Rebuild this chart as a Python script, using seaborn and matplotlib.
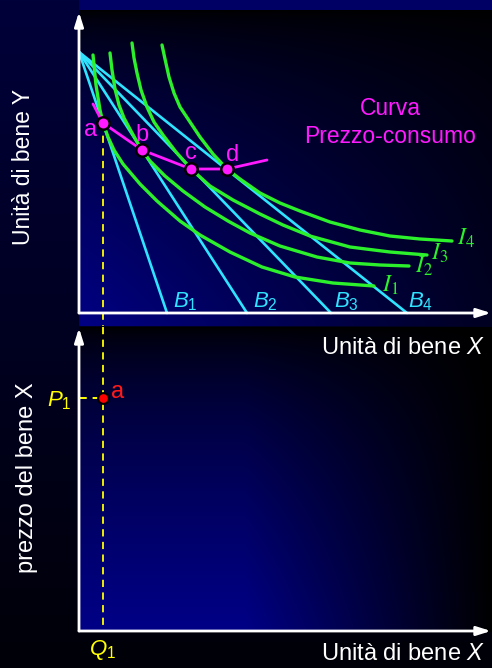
import numpy as np
import matplotlib
matplotlib.use("Agg")
import matplotlib.pyplot as plt
import seaborn as sns

sns.set_theme(style="white")
plt.rcParams['font.family'] = ['Liberation Sans', 'DejaVu Sans']
plt.rcParams['mathtext.fontset'] = 'custom'
plt.rcParams['mathtext.rm'] = 'Liberation Sans'
plt.rcParams['mathtext.it'] = 'Liberation Sans:italic'

# ---- dati (unita' del grafico) ----
# rette di bilancio: intercetta Y comune, intercette X
budget_y0 = 26.1
budget_x_end = [8.8, 16.8, 25.2, 32.8]
budget_names = ["$B_1$", "$B_2$", "$B_3$", "$B_4$"]
budget_lbl_x = [9.4, 17.4, 25.5, 32.9]

# curve di indifferenza
i1_x = [1.4, 1.7, 2.1, 2.4, 2.9, 3.5, 4.4, 6.1, 7.8, 10.1, 12.1, 15.1, 18.3, 21.6, 25.4, 29.5]
i1_y = [25.8, 22.8, 20.3, 19.0, 17.6, 16.3, 14.9, 12.9, 11.2, 9.2, 7.8, 6.1, 4.6, 3.6, 3.0, 2.7]
i2_x = [3.1, 3.3, 3.6, 4.0, 4.5, 5.2, 5.7, 6.3, 7.1, 8.6, 10.4, 12.6, 14.9, 17.1, 20.1, 23.8, 27.1, 30.1, 33.0]
i2_y = [26.0, 24.3, 22.4, 20.8, 19.5, 18.2, 17.3, 16.3, 15.2, 13.7, 12.2, 10.6, 9.2, 8.0, 6.7, 5.6, 5.0, 4.8, 4.7]
i3_x = [5.3, 5.5, 5.8, 6.2, 6.8, 7.5, 8.4, 9.7, 11.2, 13.1, 15.4, 18.1, 20.4, 23.1, 27.1, 31.1, 34.8]
i3_y = [27.0, 25.5, 24.0, 22.3, 20.6, 19.1, 17.8, 16.1, 14.4, 12.7, 11.3, 9.9, 8.8, 7.7, 6.6, 6.1, 5.8]
i4_x = [8.3, 8.6, 9.0, 9.5, 10.1, 11.1, 12.1, 13.4, 14.8, 16.1, 18.1, 20.1, 22.1, 25.1, 28.1, 31.1, 34.1, 37.3]
i4_y = [26.8, 25.4, 23.6, 22.0, 20.6, 19.1, 17.6, 15.9, 14.4, 13.4, 12.0, 11.0, 10.2, 9.1, 8.3, 7.7, 7.4, 7.2]
curves = [(i1_x, i1_y), (i2_x, i2_y), (i3_x, i3_y), (i4_x, i4_y)]
curve_names = ["$I_1$", "$I_2$", "$I_3$", "$I_4$"]
curve_lbl_x = [30.3, 33.6, 35.2, 37.8]
curve_lbl_y = [2.1, 4.0, 5.3, 6.8]

# punti di equilibrio e curva prezzo-consumo
pts_names = ["a", "b", "c", "d"]
pts_x = [2.4, 6.3, 11.2, 14.8]
pts_y = [19.0, 16.3, 14.4, 14.4]
pcc_x = [1.4] + pts_x + [18.8]
pcc_y = [20.9] + pts_y + [15.3]

# pannello inferiore: prezzo P1, quantita' Q1
p1 = 23.3
q1 = 2.4

cyan = '#2fe3ff'
green = '#2bf02b'
magenta = '#ff1aff'
yellow = '#ffff00'

W, H = 492, 668
fig = plt.figure(figsize=(W / 100, H / 100), dpi=100)

# sfondo a gradiente
yy, xx = np.mgrid[0:H, 0:W].astype(float)
blue = 8 + 50 * (1 - yy / H)
blue[(yy < 10) & (xx >= 79)] = 100
h = (xx - 79) / 413
m1 = (xx >= 79) & (yy >= 10) & (yy < 326)
v1 = np.clip((yy - 10) / 316, 0, 1)
blue[m1] = (132 * v1 ** 0.6 * (1 - 0.75 * h))[m1]
m2 = (xx >= 79) & (yy >= 327) & (yy < 632)
v2 = np.clip((yy - 327) / 305, 0, 1)
f2 = 1 - np.clip((h - 0.4) / 0.6, 0, 1)
blue[m2] = (135 * v2 ** 0.6 * f2)[m2]
rgb = np.zeros((H, W, 3))
rgb[..., 2] = np.clip(blue, 0, 255) / 255
bg = fig.add_axes([0, 0, 1, 1], zorder=0)
bg.imshow(rgb, aspect='auto', interpolation='nearest')
bg.axis('off')

ax1 = fig.add_axes([79 / W, (H - 326) / H, 413 / W, 316 / H], zorder=1)
ax2 = fig.add_axes([79 / W, (H - 632) / H, 413 / W, 305 / H], zorder=1)
ax1.set_xlim(0, 41.3)
ax1.set_ylim(-1.3, 30.3)
ax2.set_xlim(0, 41.3)
ax2.set_ylim(-0.1, 30.4)
for ax in (ax1, ax2):
    ax.set_facecolor('none')
    ax.axis('off')

arrow = dict(arrowstyle='-|>,head_length=0.7,head_width=0.22', color='white', lw=2,
             shrinkA=0, shrinkB=0)
ax1.annotate('', xy=(0, 30.1), xytext=(0, 0), arrowprops=arrow, annotation_clip=False)
ax1.annotate('', xy=(41.2, 0), xytext=(0, 0), arrowprops=arrow, annotation_clip=False)
ax2.annotate('', xy=(0, 30.3), xytext=(0, 0), arrowprops=arrow, annotation_clip=False)
ax2.annotate('', xy=(41.2, 0), xytext=(0, 0), arrowprops=arrow, annotation_clip=False)

# rette di bilancio
for xe, name, lx in zip(budget_x_end, budget_names, budget_lbl_x):
    sns.lineplot(x=[0, xe], y=[budget_y0, 0], ax=ax1, color=cyan, lw=1.9, sort=False,
                 estimator=None)
    ax1.text(lx, 0.55, name, color=cyan, fontsize=16, ha='left', va='baseline')

# curve di indifferenza
for (cx, cy), name, lx, ly in zip(curves, curve_names, curve_lbl_x, curve_lbl_y):
    sns.lineplot(x=cx, y=cy, ax=ax1, color=green, lw=2.4, sort=False, estimator=None)
    ax1.text(lx, ly, name, color=green, fontsize=17, ha='left', va='baseline',
             math_fontfamily='stix')

# curva prezzo-consumo
sns.lineplot(x=pcc_x, y=pcc_y, ax=ax1, color=magenta, lw=2.0, sort=False, estimator=None)
sns.scatterplot(x=pts_x, y=pts_y, ax=ax1, color=magenta, s=80, edgecolor='black',
                linewidth=1.8, zorder=5)
lbl_dx = [-1.2, 0.0, 0.0, 0.6]
lbl_dy = [-0.7, 1.5, 1.6, 1.4]
for n, x, y, dx, dy in zip(pts_names, pts_x, pts_y, lbl_dx, lbl_dy):
    ax1.text(x + dx, y + dy, n, color=magenta, fontsize=17, ha='center', va='center')
ax1.text(31.1, 19.05, "Curva\nPrezzo-consumo", color=magenta, fontsize=16.5,
         ha='center', va='center', linespacing=1.25)

# tratteggi gialli
sns.lineplot(x=[q1, q1], y=[pts_y[0], -1.3], ax=ax1, color=yellow, lw=1.3,
             sort=False, estimator=None).lines[-1].set_dashes([4, 3])
sns.lineplot(x=[q1, q1], y=[30.4, 0], ax=ax2, color=yellow, lw=1.3,
             sort=False, estimator=None).lines[-1].set_dashes([4, 3])
sns.lineplot(x=[0, q1], y=[p1, p1], ax=ax2, color=yellow, lw=1.4,
             sort=False, estimator=None).lines[-1].set_dashes([4, 3])
sns.scatterplot(x=[q1], y=[p1], ax=ax2, color='#ff0000', s=60, edgecolor='black',
                linewidth=1.5, zorder=5)
ax2.text(q1 + 1.5, p1 + 0.6, "a", color='#ff1a1a', fontsize=17, ha='center', va='center')
ax2.text(-0.7, 22.5, "$P_1$", color=yellow, fontsize=16, ha='right', va='baseline')
ax2.text(q1, -2.4, "$Q_1$", color=yellow, fontsize=16, ha='center', va='baseline')

# etichette degli assi
ax1.text(40.6, -3.5, "Unità di bene $X$", color='white', fontsize=17, ha='right', va='center')
ax2.text(40.6, -2.3, "Unità di bene $X$", color='white', fontsize=17, ha='right', va='center')
ax1.text(-5.5, 14.6, "Unità di bene Y", color='white', fontsize=16.5, rotation=90,
         ha='center', va='center')
ax2.text(-5.2, 15.3, "prezzo del bene X", color='white', fontsize=17, rotation=90,
         ha='center', va='center')

fig.savefig("out.png", dpi=100)
